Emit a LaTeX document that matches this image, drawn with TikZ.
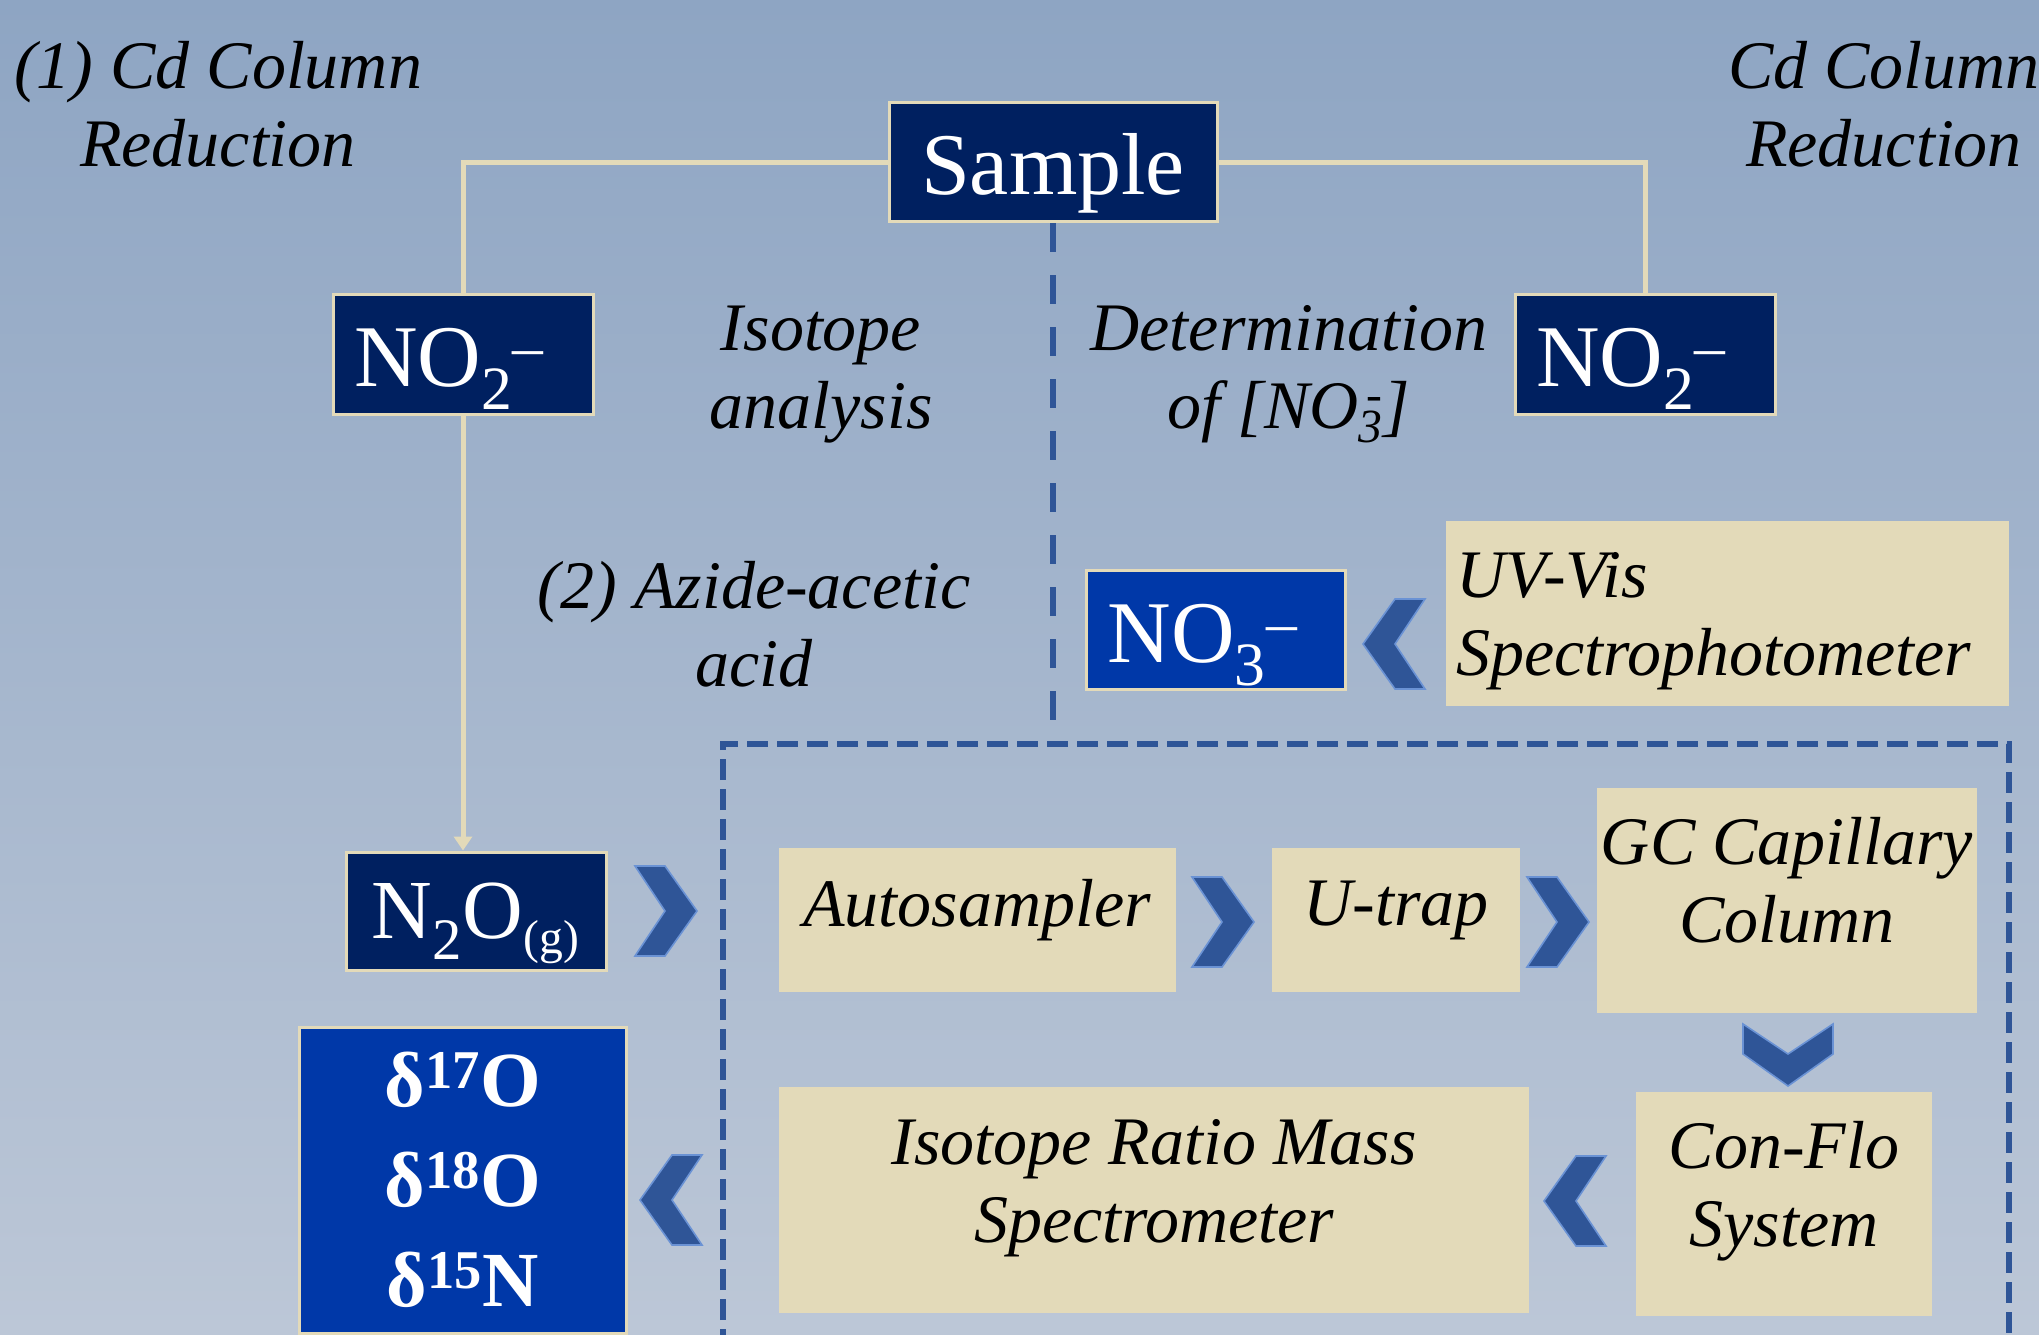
\documentclass[tikz,border=0pt]{standalone}
\usepackage{fontspec}
\setmainfont{Liberation Serif}
\usetikzlibrary{arrows.meta}
\definecolor{navy}{HTML}{002060}
\definecolor{royal}{HTML}{0038A8}
\definecolor{sand}{HTML}{E3DAB9}
\definecolor{steel}{HTML}{2F5597}
\definecolor{chevedge}{HTML}{6A92D4}
\definecolor{bgtop}{HTML}{8EA5C3}
\definecolor{bgbot}{HTML}{BCC7D7}
\begin{document}
\begin{tikzpicture}[x=0.5pt,y=-0.5pt,line width=0.4pt,every node/.style={inner sep=0pt},
  species/.style={fill=navy,draw=sand,line width=1.5pt,text=white,font=\fontsize{44}{50}\selectfont},
  onebase/.style={text height=38pt,text depth=6pt},
  instr/.style={fill=sand},
  note/.style={font=\itshape\fontsize{34}{39}\selectfont,align=center},
  link/.style={draw=sand,line width=2.5pt},
  dashline/.style={draw=steel,line width=3pt,dash pattern=on 14.5pt off 11.5pt},
  boxline/.style={draw=steel,line width=3.3pt,dash pattern=on 10.5pt off 4.5pt},
  chev/.pic={\filldraw[fill=steel,draw=chevedge,line width=0.8pt] (-31,-45) -- (-1,-45) -- (31,0) -- (-1,45) -- (-31,45) -- (-1,0) -- cycle;}]
\clip (0,0) rectangle (2039,1334);
\shade[top color=bgtop,bottom color=bgbot] (0,0) rectangle (2039,1334);
\node[species,onebase,minimum width=164pt,minimum height=59.5pt] (sample) at (1053,162) {Sample};
\node[species,onebase,minimum width=130pt,minimum height=60pt,text width=109pt,align=left] (no2l) at (463,354) {NO\textsubscript{2}\textsuperscript{--}};
\node[species,onebase,minimum width=130pt,minimum height=60pt,text width=109pt,align=left] (no2r) at (1645,354) {NO\textsubscript{2}\textsuperscript{--}};
\node[species,text height=35pt,text depth=8pt,minimum width=130pt,minimum height=59pt,font=\fontsize{42}{48}\selectfont] (n2o) at (476,911) {N\textsubscript{2}O{\fontsize{34}{34}\selectfont\textsubscript{(g)}}};
\node[species,onebase,fill=royal,minimum width=129.5pt,minimum height=59.5pt,text width=108.5pt,align=left] (no3) at (1216,630) {NO\textsubscript{3}\textsuperscript{--}};
\node[species,fill=royal,minimum width=163.5pt,minimum height=153pt,align=center,font=\bfseries\fontsize{39}{50}\selectfont] (delta) at (463,1180) {δ\textsuperscript{17}O\\δ\textsuperscript{18}O\\δ\textsuperscript{15}N};
\node[instr,minimum width=281.5pt,minimum height=92.5pt] (uvvis) at (1727,613) {};
\node[instr,minimum width=198.5pt,minimum height=72pt] (auto) at (977,920) {};
\node[instr,minimum width=124pt,minimum height=72pt] (utrap) at (1396,920) {};
\node[instr,minimum width=190pt,minimum height=112.5pt] (gc) at (1787,900) {};
\node[instr,minimum width=148pt,minimum height=112pt] (conflo) at (1784,1204) {};
\node[instr,minimum width=375pt,minimum height=113pt] (irms) at (1154,1200) {};
\node[note,align=left,anchor=west] (uvvistext) at (1456,621) {UV-Vis\\Spectrophotometer};
\node[note] (autotext) at (977,910) {Autosampler};
\node[note] (utraptext) at (1396,910) {U-trap};
\node[note] (gctext) at (1787,880) {GC Capillary\\Column};
\node[note] (conflotext) at (1784,1191) {Con-Flo\\System};
\node[note] (irmstext) at (1154,1188) {Isotope Ratio Mass\\Spectrometer};
\node[note] (redl) at (218,104) {(1) Cd Column\\Reduction};
\node[note] (redr) at (1884,104) {Cd Column\\Reduction};
\node[note] (iso) at (821,375) {Isotope\\analysis};
\node[note] (det) at (1289,374) {Determination\\of [NO\textsubscript{3}\llap{\textsuperscript{-}}]};
\node[note] (azide) at (754,624) {(2) Azide-acetic\\acid};
\coordinate (dashend) at (1053,722);
\draw[link] (no2l.north) |- (sample.west);
\draw[link] (sample.east) -| (no2r.north);
\draw[link,-{Triangle[width=9pt,length=7pt]},sand] (no2l.south) -- (no2l.south |- n2o.north);
\draw[dashline] (sample.south) -- (dashend);
\draw[boxline] (723,1350) -- (723,744) -- (2009,744) -- (2009,1350);
\pic at (666,911) {chev};
\pic at (1223,922) {chev};
\pic at (1558,922) {chev};
\pic[rotate=-90] at (1788,1055) {chev};
\pic[rotate=180] at (1575,1201) {chev};
\pic[rotate=180] at (671,1200) {chev};
\pic[rotate=180] at (1394,644) {chev};
\end{tikzpicture}
\end{document}
